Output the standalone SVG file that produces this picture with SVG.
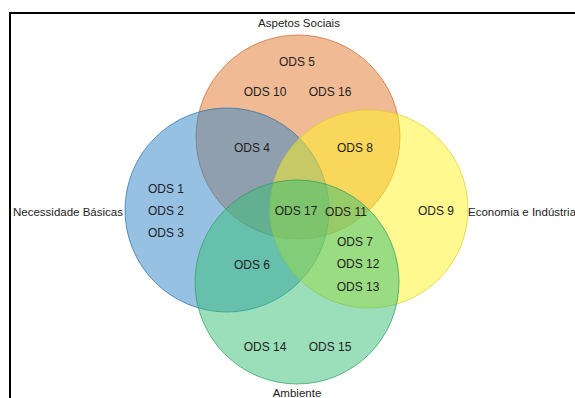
<svg xmlns="http://www.w3.org/2000/svg" width="575" height="398" viewBox="0 0 575 398">
<style>
.set{fill-opacity:0.5;stroke-width:0.9;stroke-opacity:0.8}
text{font-family:"Liberation Sans",Arial,sans-serif;font-size:12px;fill:#222;text-anchor:middle}
.cat{font-size:11.5px}
</style>
<rect x="0" y="0" width="575" height="398" fill="#fff"/>
<rect x="10" y="13" width="620" height="420" fill="none" stroke="#000" stroke-width="2"/>
<g id="aspetos-sociais">
<circle class="set" cx="298" cy="137" r="102" fill="#E17729" stroke="#C9672A"/>
</g>
<g id="necessidade-basicas">
<circle class="set" cx="227" cy="210" r="102" fill="#2D83C7" stroke="#2A6FA8"/>
</g>
<g id="economia-industria">
<circle class="set" cx="369" cy="209" r="99" fill="#FFF31F" stroke="#D9CE2A"/>
</g>
<g id="ambiente">
<circle class="set" cx="297" cy="282" r="102" fill="#35BF73" stroke="#2E9E60"/>
</g>
<g id="labels">
<text x="299" y="27" class="cat">Aspetos Sociais</text>
<text x="13" y="216" class="cat" style="text-anchor:start">Necessidade Básicas</text>
<text x="468" y="216" class="cat" style="text-anchor:start">Economia e Indústria</text>
<text x="297" y="396.5" class="cat">Ambiente</text>
<text x="297" y="66">ODS 5</text>
<text x="265" y="96">ODS 10</text>
<text x="330" y="96">ODS 16</text>
<text x="252" y="152">ODS 4</text>
<text x="355" y="152">ODS 8</text>
<text x="166" y="193">ODS 1</text>
<text x="166" y="215">ODS 2</text>
<text x="166" y="237">ODS 3</text>
<text x="296" y="215">ODS 17</text>
<text x="346" y="216">ODS 11</text>
<text x="436" y="215">ODS 9</text>
<text x="355" y="246">ODS 7</text>
<text x="358" y="268">ODS 12</text>
<text x="358" y="291">ODS 13</text>
<text x="252" y="269">ODS 6</text>
<text x="265" y="351">ODS 14</text>
<text x="330" y="351">ODS 15</text>
</g>
</svg>
